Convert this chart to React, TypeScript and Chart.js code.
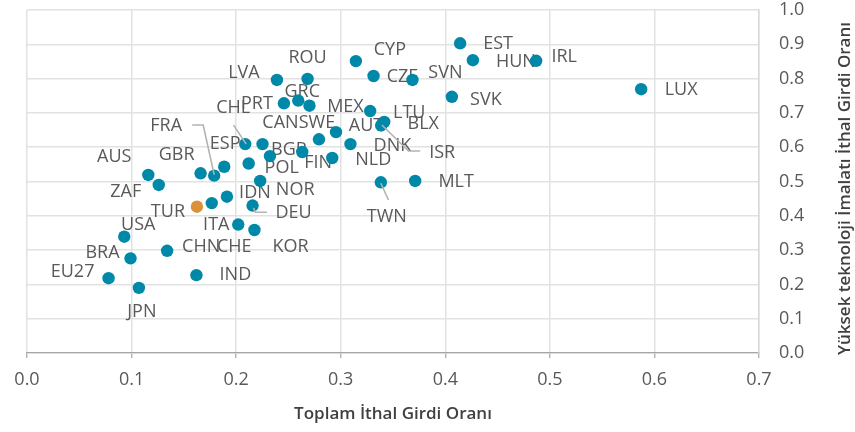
import React, { useEffect, useRef } from "react";
import { Chart, registerables } from "chart.js";

Chart.register(...registerables);

// ---- Data ----
const COUNTRIES = [
  "EU27", "JPN", "BRA", "USA", "CHN", "IND", "AUS", "ZAF", "TUR", "GBR",
  "FRA", "ESP", "POL", "NOR", "ITA", "IDN", "DEU", "CHE", "KOR", "CHL",
  "CAN", "BGR", "FIN", "SWE", "AUT", "DNK", "NLD", "TWN", "MLT", "LTU",
  "BLX", "ISR", "PRT", "GRC", "MEX", "LVA", "ROU", "CYP", "CZE", "SVN",
  "EST", "HUN", "IRL", "SVK", "LUX",
];

// Toplam İthal Girdi Oranı (x)
const TOTAL_IMPORT_RATIO = [
  0.078, 0.107, 0.099, 0.093, 0.134, 0.162, 0.116, 0.126, 0.1625, 0.166,
  0.179, 0.1886, 0.212, 0.223, 0.1767, 0.1912, 0.2157, 0.202, 0.2175, 0.2087,
  0.2252, 0.2323, 0.2632, 0.2792, 0.2955, 0.3093, 0.2919, 0.3384, 0.3712, 0.3282,
  0.3416, 0.3387, 0.2457, 0.2594, 0.2701, 0.239, 0.2683, 0.3145, 0.3314, 0.3686,
  0.4142, 0.4264, 0.4869, 0.4063, 0.5873,
];

// Yüksek teknoloji İmalatı İthal Girdi Oranı (y)
const HIGH_TECH_IMPORT_RATIO = [
  0.218, 0.19, 0.276, 0.339, 0.298, 0.227, 0.519, 0.49, 0.4265, 0.524,
  0.517, 0.543, 0.5525, 0.5015, 0.437, 0.4557, 0.43, 0.3746, 0.3586, 0.609,
  0.609, 0.574, 0.586, 0.623, 0.644, 0.609, 0.5685, 0.4977, 0.5015, 0.7055,
  0.6735, 0.6633, 0.728, 0.736, 0.721, 0.796, 0.799, 0.851, 0.8076, 0.796,
  0.903, 0.8536, 0.852, 0.747, 0.769,
];

const HIGHLIGHT = "TUR";

const X_TICKS = [0, 0.1, 0.2, 0.3, 0.4, 0.5, 0.6, 0.7];
const Y_TICKS = [0, 0.1, 0.2, 0.3, 0.4, 0.5, 0.6, 0.7, 0.8, 0.9, 1.0];

const X_TITLE = "Toplam İthal Girdi Oranı";
const Y_TITLE = "Yüksek teknoloji İmalatı İthal Girdi Oranı";

// ---- Layout (label offsets in px, relative to each point) ----
const LABEL_OFFSETS: [number, number][] = [
  [-36, -6], [3, 24], [-28, -5], [14, -12], [34, -4], [39, 0], [-34, -18], [-33, 7], [-29, 5], [-24, -18],
  [-48, -50], [1, -23], [33, 4], [35, 9], [4.5, 22], [28, -4], [41, 7.5], [-4, 22], [36, 17], [-12, -36],
  [18, -21], [19, -6], [16, 11], [-2, -16], [30, -6], [42, 2], [41, 2], [6, 35], [41, 1], [39, 2],
  [39, 2], [61, 27], [-27, 1], [4, -9], [36, 1], [-33, -7], [0, -21], [34, -11], [29, 1], [33, -7],
  [38, 1], [43, 2], [28, -4], [34, 3], [40, 1],
];

// leader lines (px, relative to point)
const LEADERS: Record<string, [number, number][]> = {
  FRA: [[0, -1], [-11, -50.7], [-22, -50.7]],
  CHL: [[1, 0], [-11.7, -19]],
  ISR: [[0.7, -0.5], [27.3, 25.5], [39, 25.5]],
  TWN: [[0, 1], [7.6, 17.7]],
  DEU: [[1, 2.5], [2.7, 6.8], [14.4, 6.8]],
};

const TEAL = "#0088A8";
const ORANGE = "#DA913A";
const LABEL_COLOR = "#595959";
const FONT = '"Open Sans", "DejaVu Sans", sans-serif';

const labelPlugin = {
  id: "pointLabels",
  beforeDatasetsDraw(chart: any) {
    const ctx = chart.ctx;
    const meta = chart.getDatasetMeta(0);
    ctx.save();
    ctx.font = `18px ${FONT}`;
    ctx.fillStyle = LABEL_COLOR;
    ctx.textAlign = "center";
    ctx.textBaseline = "middle";
    meta.data.forEach((el: any, i: number) => {
      const [dx, dy] = LABEL_OFFSETS[i];
      ctx.fillText(COUNTRIES[i], el.x + dx, el.y + dy);
    });
    ctx.restore();
  },
  afterDatasetsDraw(chart: any) {
    const ctx = chart.ctx;
    const meta = chart.getDatasetMeta(0);
    ctx.save();
    ctx.strokeStyle = "#b3b3b3";
    ctx.lineWidth = 1.6;
    meta.data.forEach((el: any, i: number) => {
      const pts = LEADERS[COUNTRIES[i]];
      if (!pts) return;
      ctx.beginPath();
      pts.forEach(([dx, dy], k) => {
        if (k === 0) ctx.moveTo(el.x + dx, el.y + dy);
        else ctx.lineTo(el.x + dx, el.y + dy);
      });
      ctx.stroke();
    });
    ctx.restore();
  },
  afterDraw(chart: any) {
    const ctx = chart.ctx;
    const area = chart.chartArea;
    ctx.save();
    ctx.translate(845, (area.top + area.bottom) / 2 + 7);
    ctx.rotate(-Math.PI / 2);
    ctx.font = `600 17px ${FONT}`;
    ctx.fillStyle = "#404040";
    ctx.textAlign = "center";
    ctx.textBaseline = "middle";
    ctx.fillText(Y_TITLE, 0, 0);
    ctx.restore();
  },
};

export default function App() {
  const canvasRef = useRef<HTMLCanvasElement | null>(null);

  useEffect(() => {
    document.body.style.margin = "0";
    const canvas = canvasRef.current;
    if (!canvas) return;
    const data = COUNTRIES.map((c, i) => ({ x: TOTAL_IMPORT_RATIO[i], y: HIGH_TECH_IMPORT_RATIO[i] }));
    const colors = COUNTRIES.map((c) => (c === HIGHLIGHT ? ORANGE : TEAL));
    const chart = new Chart(canvas, {
      type: "scatter",
      data: {
        datasets: [
          {
            data,
            pointBackgroundColor: colors,
            pointBorderWidth: 0,
            pointBorderColor: colors,
            pointRadius: 6.2,
            pointHoverRadius: 6.2,
          },
        ],
      },
      options: {
        responsive: false,
        animation: false,
        devicePixelRatio: 1,
        events: [],
        layout: { padding: { left: 27, top: 10, right: 0, bottom: 0 } },
        plugins: {
          legend: { display: false },
          tooltip: { enabled: false },
        },
        scales: {
          x: {
            type: "linear",
            position: "bottom",
            min: 0,
            max: 0.7,
            afterBuildTicks: (s: any) => {
              s.ticks = X_TICKS.map((v) => ({ value: v }));
            },
            afterFit: (s: any) => {
              s.height = 79;
              s.paddingLeft = 0;
              s.paddingRight = 0;
            },
            ticks: {
              callback: (v: any) => Number(v).toFixed(1),
              font: { family: FONT, size: 18 },
              color: LABEL_COLOR,
              padding: 11,
              maxRotation: 0,
              autoSkip: false,
            },
            grid: {
              color: "#e2e2e2",
              lineWidth: 1.5,
              tickLength: 5,
              tickColor: "#a6a6a6",
              tickWidth: 1.2,
            },
            border: { color: "#a6a6a6", width: 1.2 },
            title: {
              display: true,
              text: X_TITLE,
              font: { family: FONT, size: 17, weight: "600" },
              color: "#404040",
              padding: { top: 0, bottom: 8 },
            },
          },
          y: {
            type: "linear",
            position: "right",
            min: 0,
            max: 1,
            afterBuildTicks: (s: any) => {
              s.ticks = Y_TICKS.map((v) => ({ value: v }));
            },
            afterFit: (s: any) => {
              s.width = 96;
              s.paddingTop = 0;
              s.paddingBottom = 0;
            },
            ticks: {
              callback: (v: any) => Number(v).toFixed(1),
              font: { family: FONT, size: 18 },
              color: LABEL_COLOR,
              padding: 20,
              autoSkip: false,
            },
            grid: {
              color: "#e2e2e2",
              lineWidth: 1.5,
              drawTicks: false,
            },
            border: { color: "#d9d9d9", width: 1.5 },
          },
        },
      },
      plugins: [labelPlugin],
    } as any);
    return () => chart.destroy();
  }, []);

  return (
    <div style={{ width: 855, height: 432 }}>
      <canvas ref={canvasRef} width={855} height={432} style={{ display: "block" }} />
    </div>
  );
}
